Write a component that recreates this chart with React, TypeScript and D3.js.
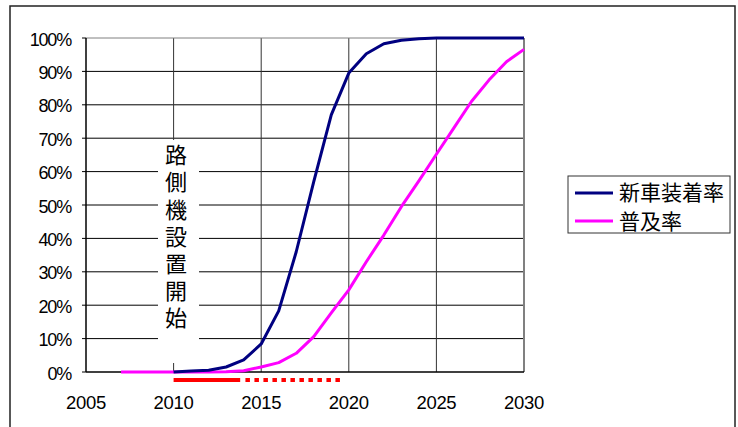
import { useEffect, useRef } from 'react';
import * as d3 from 'd3';

// 新車装着率 (navy)
const navyYears = [2010, 2011, 2012, 2013, 2014, 2015, 2016, 2017, 2018, 2019, 2020, 2021, 2022, 2023, 2024, 2025, 2026, 2027, 2028, 2029, 2030];
const navyValues = [0, 0.3, 0.5, 1.5, 3.6, 8.4, 18.3, 36, 57, 77, 89.5, 95.3, 98.3, 99.3, 99.8, 100, 100, 100, 100, 100, 100];

// 普及率 (magenta)
const pinkYears = [2007, 2008, 2009, 2010, 2011, 2012, 2013, 2014, 2015, 2016, 2017, 2018, 2019, 2020, 2021, 2022, 2023, 2024, 2025, 2026, 2027, 2028, 2029, 2030];
const pinkValues = [0, 0, 0, 0, 0, 0, 0.1, 0.4, 1.5, 2.8, 5.6, 10.6, 17.7, 24.6, 33, 41, 49.5, 57.2, 65.2, 73.1, 81, 87.4, 92.9, 96.6];

const seriesNames = ['新車装着率', '普及率'];
const seriesColors = ['#000080', '#ff00ff'];

const xTicks = [2005, 2010, 2015, 2020, 2025, 2030];
const yTicks = [0, 10, 20, 30, 40, 50, 60, 70, 80, 90, 100];

// red bar under the axis: solid then dotted (years)
const solidSpan = [2010, 2013.8];
const dottedSpan = [2014.1, 2019.6];

const annotation = '路側機設置開始';

const App = () => {
  const svgRef = useRef<SVGSVGElement>(null);

  useEffect(() => {
    const width = 738;
    const height = 427;
    const svg = d3.select(svgRef.current);
    svg.selectAll('*').remove();
    svg.attr('width', width).attr('height', height);

    const latin = 'Liberation Sans, Arial, sans-serif';
    const cjk = '"Noto Sans CJK JP", sans-serif';

    // outer chart frame
    svg.append('rect')
      .attr('x', 10).attr('y', 6)
      .attr('width', 725).attr('height', 440)
      .attr('fill', '#fff')
      .attr('stroke', '#222').attr('stroke-width', 1.5);

    const x = d3.scaleLinear().domain([2005, 2030]).range([86, 524]);
    const y = d3.scaleLinear().domain([0, 100]).range([372, 38]);

    // horizontal gridlines
    svg.selectAll('.hgrid')
      .data(yTicks.filter(t => t > 0 && t < 100))
      .enter()
      .append('line')
      .attr('x1', x(2005)).attr('x2', x(2030))
      .attr('y1', d => y(d)).attr('y2', d => y(d))
      .attr('stroke', '#000').attr('stroke-width', 1);

    // vertical gridlines
    svg.selectAll('.vgrid')
      .data(xTicks.filter(t => t > 2005 && t < 2030))
      .enter()
      .append('line')
      .attr('x1', d => x(d)).attr('x2', d => x(d))
      .attr('y1', y(100)).attr('y2', y(0))
      .attr('stroke', '#333').attr('stroke-width', 1);

    // plot border (top/right gray)
    svg.append('line')
      .attr('x1', x(2005)).attr('x2', x(2030))
      .attr('y1', y(100)).attr('y2', y(100))
      .attr('stroke', '#808080').attr('stroke-width', 1);
    svg.append('line')
      .attr('x1', x(2030)).attr('x2', x(2030))
      .attr('y1', y(100)).attr('y2', y(0))
      .attr('stroke', '#808080').attr('stroke-width', 2);

    // annotation box covering grid, vertical text
    svg.append('rect')
      .attr('x', 158).attr('y', 140)
      .attr('width', 41).attr('height', 223)
      .attr('fill', '#fff');
    svg.append('text')
      .attr('x', 176)
      .attr('y', 144)
      .attr('writing-mode', 'vertical-rl')
      .style('writing-mode', 'vertical-rl')
      .attr('font-family', cjk)
      .attr('font-size', 22)
      .attr('letter-spacing', 5.1)
      .attr('fill', '#000')
      .text(annotation);

    // axes
    svg.append('line')
      .attr('x1', x(2005)).attr('x2', x(2005))
      .attr('y1', y(100)).attr('y2', y(0))
      .attr('stroke', '#000').attr('stroke-width', 1.5);
    svg.append('line')
      .attr('x1', x(2005)).attr('x2', x(2030))
      .attr('y1', y(0)).attr('y2', y(0))
      .attr('stroke', '#000').attr('stroke-width', 1.5);

    svg.selectAll('.ytick')
      .data(yTicks)
      .enter()
      .append('line')
      .attr('x1', x(2005) - 4).attr('x2', x(2005))
      .attr('y1', d => y(d)).attr('y2', d => y(d))
      .attr('stroke', '#000');

    svg.selectAll('.ylabel')
      .data(yTicks)
      .enter()
      .append('text')
      .attr('x', 71)
      .attr('y', d => y(d) + 7.5)
      .attr('text-anchor', 'end')
      .attr('font-family', latin)
      .attr('font-size', 18)
      .attr('letter-spacing', -1.2)
      .text(d => `${d}%`);

    svg.selectAll('.xlabel')
      .data(xTicks)
      .enter()
      .append('text')
      .attr('x', d => x(d))
      .attr('y', 409)
      .attr('text-anchor', 'middle')
      .attr('font-family', latin)
      .attr('font-size', 18.5)
      .attr('letter-spacing', -0.3)
      .text(d => d);

    // red start marker
    svg.append('line')
      .attr('x1', x(solidSpan[0])).attr('x2', x(solidSpan[1]))
      .attr('y1', 380).attr('y2', 380)
      .attr('stroke', '#ff0000').attr('stroke-width', 4);
    svg.append('line')
      .attr('x1', x(dottedSpan[0])).attr('x2', x(dottedSpan[1]))
      .attr('y1', 380).attr('y2', 380)
      .attr('stroke', '#ff0000').attr('stroke-width', 4)
      .attr('stroke-dasharray', '4.5,4.5');

    // series lines
    const line = d3.line<[number, number]>()
      .x(d => x(d[0]))
      .y(d => y(d[1]));

    const series = [
      navyYears.map((yr, i) => [yr, navyValues[i]] as [number, number]),
      pinkYears.map((yr, i) => [yr, pinkValues[i]] as [number, number]),
    ];

    svg.selectAll('.series')
      .data([series[1], series[0]])
      .enter()
      .append('path')
      .attr('d', d => line(d))
      .attr('fill', 'none')
      .attr('stroke', (d, i) => (i === 0 ? seriesColors[1] : seriesColors[0]))
      .attr('stroke-width', 3)
      .attr('stroke-linejoin', 'round');

    // legend
    const legend = svg.append('g').attr('transform', 'translate(568, 176)');
    legend.append('rect')
      .attr('width', 162).attr('height', 57)
      .attr('fill', '#fff')
      .attr('stroke', '#333').attr('stroke-width', 1);
    seriesNames.forEach((name, i) => {
      legend.append('line')
        .attr('x1', 7).attr('x2', 45)
        .attr('y1', 17 + i * 28).attr('y2', 17 + i * 28)
        .attr('stroke', seriesColors[i]).attr('stroke-width', 3);
      legend.append('text')
        .attr('x', 51)
        .attr('y', 24 + i * 28.5)
        .attr('font-family', cjk)
        .attr('font-size', 21)
        .text(name);
    });
  }, []);

  return (
    <div style={{ position: 'absolute', left: 0, top: 0 }}>
      <svg ref={svgRef} style={{ display: 'block' }}></svg>
    </div>
  );
};

export default App;
